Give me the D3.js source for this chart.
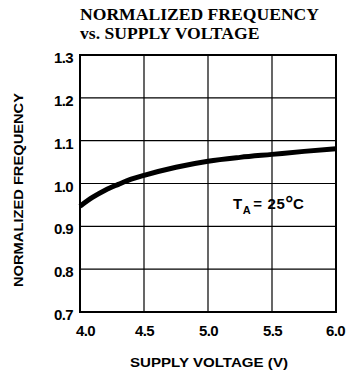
<!DOCTYPE html>
<html><head><meta charset="utf-8">
<script src="https://cdn.jsdelivr.net/npm/d3@7"></script>
<style>body{margin:0;background:#fff}svg{display:block}</style>
</head><body>
<script>
const voltage = [4.0, 4.1, 4.2, 4.3, 4.4, 4.5, 4.75, 5.0, 5.25, 5.5, 5.75, 6.0];
const normFreq = [0.947, 0.968, 0.985, 0.998, 1.010, 1.019, 1.038, 1.052, 1.061, 1.068, 1.075, 1.081];
const xTicks = [4.0, 4.5, 5.0, 5.5, 6.0];
const yTicks = [0.7, 0.8, 0.9, 1.0, 1.1, 1.2, 1.3];
const titleLines = ["NORMALIZED FREQUENCY", "vs. SUPPLY VOLTAGE"];

const W = 350, H = 371;
const m = {left: 80, right: 14, top: 55, bottom: 59};
const svg = d3.select("body").append("svg").attr("width", W).attr("height", H);
const x = d3.scaleLinear().domain([4.0, 6.0]).range([m.left, W - m.right]);
const y = d3.scaleLinear().domain([0.7, 1.3]).range([H - m.bottom, m.top]);

// title
svg.append("g").selectAll("text").data(titleLines).join("text")
  .attr("x", 80).attr("y", (d, i) => 20 + i * 19)
  .attr("font-family", "Liberation Serif, Times New Roman, serif")
  .attr("font-weight", "bold").attr("font-size", 17.6)
  .text(d => d);

// grid
const g = svg.append("g");
g.selectAll(".vg").data(xTicks).join("line")
  .attr("x1", d => x(d)).attr("x2", d => x(d))
  .attr("y1", y(0.7)).attr("y2", y(1.3))
  .attr("stroke", "#000").attr("stroke-width", 1.2);
g.selectAll(".hg").data(yTicks).join("line")
  .attr("y1", d => y(d)).attr("y2", d => y(d))
  .attr("x1", x(4.0)).attr("x2", x(6.0))
  .attr("stroke", "#000").attr("stroke-width", 1.2);
g.append("rect").attr("x", x(4.0)).attr("y", y(1.3))
  .attr("width", x(6.0) - x(4.0)).attr("height", y(0.7) - y(1.3))
  .attr("fill", "none").attr("stroke", "#000").attr("stroke-width", 2);

// axes labels via d3 axes
const fmt = d3.format(".1f");
const xAxis = svg.append("g").attr("transform", `translate(0,${y(0.7)})`)
  .call(d3.axisBottom(x).tickValues(xTicks).tickFormat(fmt).tickSize(0).tickPadding(13));
xAxis.select(".domain").remove();
xAxis.selectAll("text").attr("font-family", "Liberation Sans, Arial, sans-serif")
  .attr("font-weight", "bold").attr("font-size", 15).attr("fill", "#000")
  .attr("letter-spacing", -0.6);
xAxis.selectAll(".tick").filter(d => d === 4.0).select("text").attr("dx", 5);
xAxis.selectAll(".tick").filter(d => d === 6.0).select("text").attr("dx", -1);

const yAxis = svg.append("g").attr("transform", `translate(${x(4.0)},0)`)
  .call(d3.axisLeft(y).tickValues(yTicks).tickFormat(fmt).tickSize(0).tickPadding(7));
yAxis.select(".domain").remove();
yAxis.selectAll("text").attr("font-family", "Liberation Sans, Arial, sans-serif")
  .attr("font-weight", "bold").attr("font-size", 15).attr("fill", "#000")
  .attr("letter-spacing", -0.6).attr("dy", "0.5em");

// axis titles
svg.append("text").attr("x", (x(4.0) + x(6.0)) / 2 + 1).attr("y", 367)
  .attr("text-anchor", "middle")
  .attr("font-family", "Liberation Sans, Arial, sans-serif")
  .attr("font-weight", "bold").attr("font-size", 13.5)
  .attr("textLength", 158).attr("lengthAdjust", "spacingAndGlyphs")
  .text("SUPPLY VOLTAGE (V)");
svg.append("text").attr("transform", "translate(23,190) rotate(-90)")
  .attr("text-anchor", "middle")
  .attr("font-family", "Liberation Sans, Arial, sans-serif")
  .attr("font-weight", "bold").attr("font-size", 13.5)
  .attr("textLength", 194).attr("lengthAdjust", "spacingAndGlyphs")
  .text("NORMALIZED FREQUENCY");

// curve
const pts = voltage.map((v, i) => [v, normFreq[i]]);
svg.append("path").datum(pts)
  .attr("fill", "none").attr("stroke", "#000").attr("stroke-width", 5)
  .attr("stroke-linecap", "butt")
  .attr("d", d3.line().x(d => x(d[0])).y(d => y(d[1])).curve(d3.curveMonotoneX));

// annotation
const ann = svg.append("text").attr("x", 233).attr("y", 209)
  .attr("font-family", "Liberation Sans, Arial, sans-serif")
  .attr("font-weight", "bold").attr("font-size", 15).attr("letter-spacing", 0.6);
ann.append("tspan").text("T");
ann.append("tspan").attr("dy", 5).attr("font-size", 11).text("A");
ann.append("tspan").attr("dy", -5).attr("dx", 2).text("= 25");
ann.append("tspan").attr("font-size", 20).attr("dy", 1).text("°");
ann.append("tspan").attr("dy", -1).attr("dx", -1).text("C");
</script>
</body></html>
